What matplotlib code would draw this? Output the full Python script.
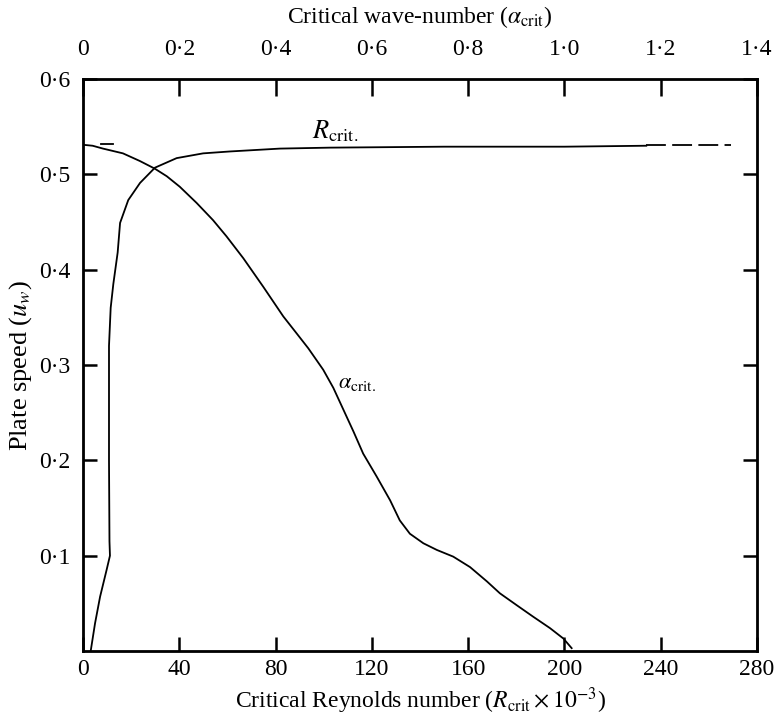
import matplotlib
matplotlib.use("Agg")
import matplotlib.pyplot as plt

plt.rcParams['font.family'] = ['Liberation Serif', 'DejaVu Serif']
plt.rcParams['mathtext.fontset'] = 'stix'

# Critical Reynolds number curve (bottom axis, R_crit x 1e-3)
R_crit = [3.2, 5.0, 7.1, 9.8, 11.2, 11.0, 10.8, 10.8, 11.5, 12.6, 14.4, 15.4,
          18.8, 23.7, 29.9, 38.9, 49.9, 61.1, 81.8, 102.6, 150.0, 200.0, 234.0]
uw_R = [0.0, 0.029, 0.057, 0.085, 0.100, 0.115, 0.200, 0.320, 0.360, 0.385, 0.418, 0.449,
        0.473, 0.491, 0.507, 0.517, 0.522, 0.524, 0.527, 0.528, 0.529, 0.529, 0.530]
R_dash = [234.0, 269.0]
uw_R_dash = [0.531, 0.531]

# Critical wave-number curve (top axis)
alpha_crit = [0.0, 0.02, 0.0415, 0.083, 0.118, 0.149, 0.174, 0.201, 0.236, 0.270,
              0.298, 0.333, 0.3745, 0.416, 0.444, 0.468, 0.499, 0.520, 0.541, 0.562,
              0.582, 0.610, 0.638, 0.658, 0.679, 0.707, 0.735, 0.769, 0.804, 0.839,
              0.866, 0.901, 0.935, 0.970, 0.998, 1.015]
uw_alpha = [0.531, 0.530, 0.527, 0.522, 0.514, 0.506, 0.498, 0.487, 0.470, 0.452,
            0.435, 0.412, 0.382, 0.351, 0.333, 0.3175, 0.295, 0.276, 0.253, 0.230,
            0.207, 0.183, 0.158, 0.137, 0.123, 0.113, 0.106, 0.099, 0.088, 0.073,
            0.0605, 0.048, 0.036, 0.024, 0.013, 0.003]
alpha_dash = [0.037, 0.062]
uw_alpha_dash = [0.532, 0.532]

bottom_ticks = [0, 40, 80, 120, 160, 200, 240, 280]
bottom_labels = ['0', '40', '80', '120', '160', '200', '240', '280']
top_ticks = [0, 0.2, 0.4, 0.6, 0.8, 1.0, 1.2, 1.4]
top_labels = ['0', '0·2', '0·4', '0·6', '0·8', '1·0', '1·2', '1·4']
y_ticks = [0.1, 0.2, 0.3, 0.4, 0.5, 0.6]
y_labels = ['0·1', '0·2', '0·3', '0·4', '0·5', '0·6']

fig = plt.figure(figsize=(7.74, 7.18), dpi=100)
ax = fig.add_axes([83/774, 1 - 651/718, 674/774, 572/718])
ax.set_xlim(0, 280)
ax.set_ylim(0, 0.6)

lw = 1.3
ax.plot(R_crit, uw_R, color='black', lw=lw, solid_joinstyle='round')
ax.plot(R_dash, uw_R_dash, color='black', lw=lw, ls=(0, (11, 3.5)))

ax.set_xticks(bottom_ticks)
ax.set_xticklabels(bottom_labels)
ax.set_yticks(y_ticks)
ax.set_yticklabels(y_labels)
ax.tick_params(axis='both', direction='in', length=10, width=1.8, labelsize=17,
               right=True)
ax.tick_params(axis='x', pad=6)
ax.tick_params(axis='y', pad=9)
for s in ax.spines.values():
    s.set_linewidth(2.0)

ax.set_xlabel(r'Critical Reynolds number ($R_{\mathrm{crit}} \times 10^{-3}$)', fontsize=17, labelpad=4)
ax.set_ylabel(r'Plate speed ($u_w$)', fontsize=19, labelpad=4)

ax2 = ax.twiny()
ax2.set_xlim(0, 1.4)
ax2.plot(alpha_crit, uw_alpha, color='black', lw=lw, solid_joinstyle='round')
ax2.plot(alpha_dash, uw_alpha_dash, color='black', lw=lw)
ax2.set_xticks(top_ticks)
ax2.set_xticklabels(top_labels)
ax2.tick_params(axis='x', direction='in', length=12, width=1.8, labelsize=17, pad=14)
ax2.set_xlabel(r'Critical wave-number ($\alpha_{\mathrm{crit}}$)', fontsize=17, labelpad=11)

ax.text(95.1, 0.538, r'$R_{\mathrm{crit.}}$', fontsize=19, ha='left', va='baseline')
ax.text(106, 0.281, r'$\alpha_{\mathrm{crit.}}$', fontsize=16, ha='left', va='center')

fig.savefig('out.png', dpi=100)
